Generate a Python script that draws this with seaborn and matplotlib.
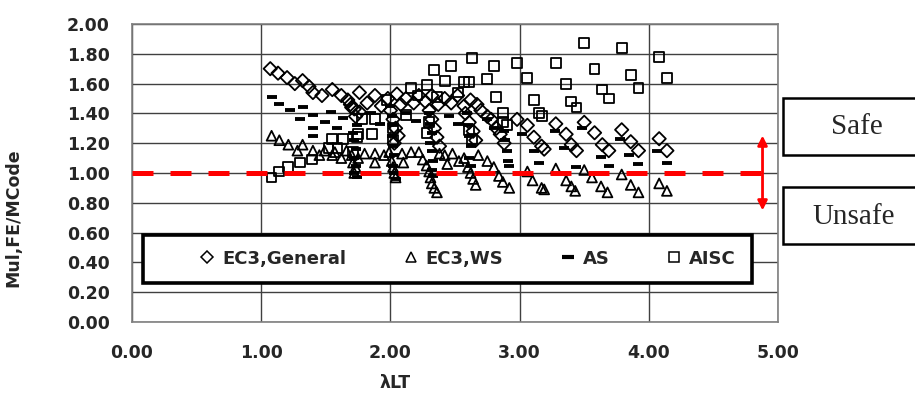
import pandas as pd
import matplotlib.pyplot as plt
import seaborn as sns
from matplotlib.lines import Line2D
from matplotlib.patches import Rectangle

# valores (lambda_LT, Mul,FE / MCode)
ec3_gen_x = [1.07, 1.13, 1.20, 1.26, 1.32, 1.37, 1.40, 1.47, 1.55, 1.62, 1.67, 1.70, 1.76, 1.76, 1.73, 1.69, 1.72,
             1.82, 1.88, 1.93, 1.98, 2.05, 2.08, 2.12, 2.18, 2.22, 2.27, 2.32, 2.37, 2.42, 2.47, 2.52, 2.57, 2.62, 2.67,
             2.00, 2.02, 2.04, 2.06, 2.03,
             2.30, 2.32, 2.34, 2.36, 2.38,
             2.58, 2.61, 2.64, 2.66,
             2.70, 2.75, 2.78, 2.82, 2.85, 2.88,
             2.98, 3.06, 3.11, 3.17, 3.19, 3.28, 3.36, 3.40, 3.44, 3.50, 3.58, 3.64, 3.69, 3.79, 3.86, 3.92, 4.08, 4.14]
ec3_gen_y = [1.70, 1.67, 1.64, 1.60, 1.62, 1.58, 1.54, 1.52, 1.56, 1.52, 1.49, 1.44, 1.54, 1.41, 1.38, 1.46, 1.43,
             1.47, 1.52, 1.45, 1.50, 1.53, 1.46, 1.50, 1.47, 1.52, 1.48, 1.52, 1.46, 1.50, 1.47, 1.52, 1.45, 1.49, 1.46,
             1.42, 1.36, 1.30, 1.25, 1.20,
             1.42, 1.36, 1.30, 1.24, 1.18,
             1.40, 1.34, 1.28, 1.22,
             1.42, 1.38, 1.36, 1.30, 1.26, 1.20,
             1.36, 1.32, 1.24, 1.18, 1.16, 1.33, 1.26, 1.19, 1.15, 1.34, 1.27, 1.19, 1.15, 1.29, 1.21, 1.15, 1.23, 1.15]

ec3_ws_x = [1.08, 1.14, 1.21, 1.28, 1.32, 1.40, 1.45, 1.49, 1.55, 1.57, 1.62, 1.66, 1.70, 1.71, 1.73, 1.72, 1.75, 1.80,
            1.88, 1.88, 1.95, 1.99, 2.01, 2.02, 2.03, 2.04, 2.09, 2.10,
            2.16, 2.22, 2.25, 2.28, 2.30, 2.31, 2.32, 2.34, 2.36, 2.38,
            2.42, 2.44, 2.48, 2.53, 2.57, 2.60, 2.62, 2.64, 2.66, 2.68, 2.75,
            2.80, 2.84, 2.87, 2.92, 3.06, 3.10, 3.17, 3.19, 3.28, 3.36, 3.40, 3.43,
            3.50, 3.56, 3.63, 3.68, 3.79, 3.86, 3.92, 4.08, 4.14]
ec3_ws_y = [1.25, 1.22, 1.19, 1.15, 1.19, 1.15, 1.12, 1.15, 1.12, 1.14, 1.10, 1.15, 1.12, 1.07, 1.04, 1.00, 1.10, 1.13,
            1.13, 1.07, 1.12, 1.14, 1.08, 1.04, 1.00, 0.97, 1.13, 1.07,
            1.14, 1.14, 1.09, 1.05, 1.01, 0.97, 0.93, 0.90, 0.87, 1.13,
            1.12, 1.06, 1.13, 1.08, 1.10, 1.04, 1.00, 0.96, 0.92, 1.12, 1.08,
            1.04, 0.98, 0.94, 0.90, 1.01, 0.95, 0.90, 0.89, 1.03, 0.95, 0.91, 0.88,
            1.02, 0.97, 0.91, 0.87, 0.99, 0.92, 0.87, 0.93, 0.88]

as_x = [1.08, 1.14, 1.22, 1.32, 1.30, 1.40, 1.49, 1.40, 1.40, 1.59, 1.54, 1.63, 1.74,
        1.71, 1.72, 1.73, 1.72, 1.73, 1.72, 1.74,
        2.00, 2.01, 2.02, 2.01, 2.02, 2.03, 2.02, 2.03, 2.04,
        1.85, 1.92, 2.12, 2.20, 2.45, 2.52, 2.75, 2.80,
        2.30, 2.31, 2.32, 2.31, 2.32, 2.33, 2.32, 2.33,
        2.59, 2.60, 2.61, 2.62, 2.61, 2.62,
        2.88, 2.89, 2.90, 2.91, 2.92,
        3.02, 3.11, 3.15, 3.27, 3.34, 3.44, 3.48, 3.63, 3.69, 3.78, 3.85, 3.92, 4.06, 4.14]
as_y = [1.51, 1.46, 1.42, 1.44, 1.36, 1.39, 1.34, 1.30, 1.25, 1.30, 1.41, 1.37, 1.32,
        1.27, 1.22, 1.16, 1.10, 1.05, 1.00, 0.97,
        1.45, 1.38, 1.32, 1.25, 1.18, 1.12, 1.05, 1.00, 0.96,
        1.40, 1.33, 1.40, 1.35, 1.38, 1.33, 1.36, 1.30,
        1.40, 1.33, 1.27, 1.20, 1.15, 1.08, 1.02, 0.98,
        1.40, 1.32, 1.25, 1.18, 1.10, 1.05,
        1.28, 1.22, 1.15, 1.08, 1.05,
        1.26, 1.15, 1.07, 1.28, 1.17, 1.04, 1.30, 1.11, 1.05, 1.23, 1.12, 1.06, 1.15, 1.07]

aisc_x = [1.08, 1.14, 1.21, 1.30, 1.39, 1.52, 1.55, 1.59, 1.63, 1.71,
          1.74, 1.75, 1.78, 1.86, 1.88, 1.97, 2.02, 2.02, 2.12, 2.16,
          2.21, 2.28, 2.28, 2.30, 2.34, 2.36, 2.42, 2.47, 2.52, 2.57,
          2.61, 2.61, 2.63, 2.63, 2.75, 2.80, 2.82, 2.87, 2.87, 2.90,
          2.98, 3.06, 3.11, 3.15, 3.17, 3.28, 3.36, 3.40, 3.44, 3.50,
          3.58, 3.64, 3.69, 3.79, 3.86, 3.92, 4.08, 4.14]
aisc_y = [0.97, 1.01, 1.04, 1.07, 1.09, 1.17, 1.23, 1.17, 1.23, 1.14,
          1.24, 1.26, 1.36, 1.26, 1.36, 1.49, 1.30, 1.22, 1.39, 1.57,
          1.52, 1.59, 1.27, 1.34, 1.69, 1.51, 1.62, 1.72, 1.54, 1.61,
          1.61, 1.29, 1.77, 1.23, 1.63, 1.72, 1.51, 1.40, 1.34, 1.32,
          1.74, 1.64, 1.49, 1.40, 1.38, 1.74, 1.60, 1.48, 1.44, 1.87,
          1.70, 1.56, 1.50, 1.84, 1.66, 1.57, 1.78, 1.64]

series = ['EC3,General', 'EC3,WS', 'AS', 'AISC']
x_ticks = [0, 1, 2, 3, 4, 5]
y_ticks = [0.0, 0.2, 0.4, 0.6, 0.8, 1.0, 1.2, 1.4, 1.6, 1.8, 2.0]

df = pd.concat([
    pd.DataFrame({'lam': ec3_gen_x, 'ratio': ec3_gen_y, 'serie': series[0]}),
    pd.DataFrame({'lam': ec3_ws_x, 'ratio': ec3_ws_y, 'serie': series[1]}),
    pd.DataFrame({'lam': as_x, 'ratio': as_y, 'serie': series[2]}),
    pd.DataFrame({'lam': aisc_x, 'ratio': aisc_y, 'serie': series[3]}),
])

sns.set_style('white')
plt.rcParams['font.family'] = ['DejaVu Sans']

fig = plt.figure(figsize=(9.15, 3.96), dpi=100)
ax = fig.add_axes([0.1443, 0.1869, 0.7060, 0.7525])

estilos = {
    'EC3,General': dict(marker='D', s=46, linewidth=1.3),
    'EC3,WS': dict(marker='^', s=50, linewidth=1.3),
    'AS': dict(marker='_', s=52, linewidth=2.8),
    'AISC': dict(marker='s', s=50, linewidth=1.3),
}
for nome in series:
    st = estilos[nome]
    if st['marker'] == '_':
        sns.scatterplot(data=df[df['serie'] == nome], x='lam', y='ratio', ax=ax, legend=False,
                        marker='_', s=st['s'], color='black', linewidth=st['linewidth'], zorder=3)
    else:
        sns.scatterplot(data=df[df['serie'] == nome], x='lam', y='ratio', ax=ax, legend=False,
                        marker=st['marker'], s=st['s'], facecolor='none', edgecolor='black',
                        linewidth=st['linewidth'], zorder=3)

# linha de referência e seta
ax.axhline(1.0, color='red', lw=3.6, dashes=(4.2, 3.4), zorder=4)
ax.annotate('', xy=(4.88, 1.27), xytext=(4.88, 0.73),
            arrowprops=dict(arrowstyle='<|-|>', color='red', lw=2.0, mutation_scale=14), zorder=5)

ax.set_xlim(0, 5)
ax.set_ylim(0, 2)
ax.set_xticks(x_ticks)
ax.set_yticks(y_ticks)
ax.set_xticklabels([f'{v:.2f}' for v in x_ticks], fontweight='bold', fontsize=12.5)
ax.set_yticklabels([f'{v:.2f}' for v in y_ticks], fontweight='bold', fontsize=12.5)
ax.tick_params(axis='both', direction='out', length=4, width=1, color='#808080', pad=12)
ax.grid(True, color='#404040', lw=1)
for sp in ax.spines.values():
    sp.set_color('#808080')
    sp.set_linewidth(1.2)

ax.set_xlabel('λLT', fontweight='bold', fontsize=12.5)
ax.set_ylabel('Mul,FE/MCode', fontweight='bold', fontsize=12.5)
ax.xaxis.set_label_coords(0.407, -0.175)
ax.yaxis.set_label_coords(-0.17, 0.35)

# legenda
ax.add_patch(Rectangle((0.017, 0.131), 0.943, 0.161, transform=ax.transAxes, facecolor='white',
                       edgecolor='black', lw=2.6, zorder=6))
handles = [
    Line2D([], [], ls='none', marker='D', ms=6.5, mfc='none', mec='black', mew=1.1),
    Line2D([], [], ls='none', marker='^', ms=6.5, mfc='none', mec='black', mew=1.1),
    Line2D([], [], ls='none', marker='_', ms=8, mec='black', mew=3),
    Line2D([], [], ls='none', marker='s', ms=6.5, mfc='none', mec='black', mew=1.1),
]
leg = ax.legend(handles, series, loc='center', bbox_to_anchor=(0.52, 0.212), ncol=4, frameon=False,
                prop={'weight': 'bold', 'size': 13}, handlelength=0.8, handletextpad=0.4, columnspacing=3.2)
leg.set_zorder(7)

# caixas Safe / Unsafe
fig.patches.append(Rectangle((0.8557, 0.6086), 0.16, 0.144, transform=fig.transFigure,
                             facecolor='white', edgecolor='black', lw=1.8))
fig.patches.append(Rectangle((0.8557, 0.3838), 0.16, 0.144, transform=fig.transFigure,
                             facecolor='white', edgecolor='black', lw=1.8))
fig.text(0.9366, 0.679, 'Safe', family='Liberation Serif', fontsize=21, ha='center', va='center')
fig.text(0.933, 0.452, 'Unsafe', family='Liberation Serif', fontsize=21, ha='center', va='center')

plt.savefig('out.png', dpi=100)
plt.close()
